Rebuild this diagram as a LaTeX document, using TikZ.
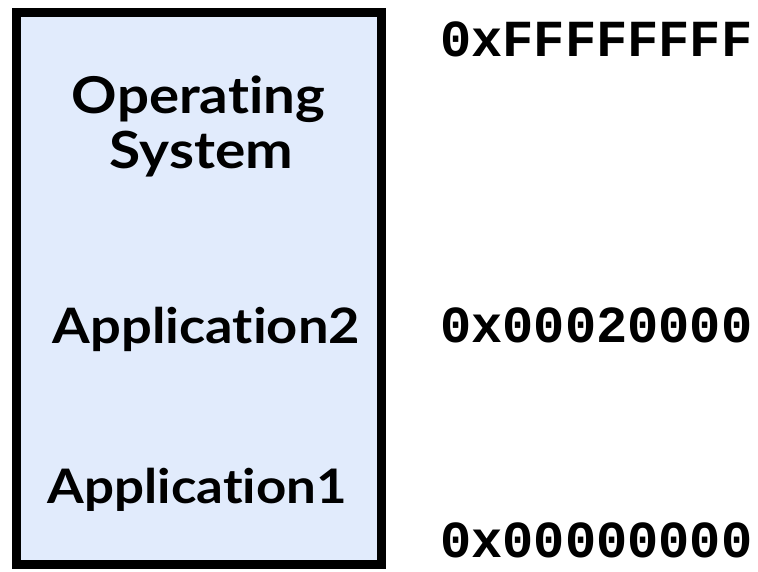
\documentclass[tikz,border=0pt]{standalone}
\usepackage{fontspec}
\newfontfamily\labelfont{Lato}[BoldFont={Lato Bold}, Ligatures={NoCommon}]
\newfontfamily\addrfont{Liberation Mono}
\definecolor{memfill}{HTML}{E1EBFC}
\tikzset{
  memlabel/.style={anchor=base, inner sep=0pt, font=\labelfont\bfseries},
  addr/.style={anchor=base west, inner sep=0pt, font=\addrfont\bfseries\fontsize{52}{60}\selectfont}
}
\begin{document}
\begin{tikzpicture}[x=1pt,y=-1pt]
\useasboundingbox (0,0) rectangle (758,571);
\draw[line width=9pt, fill=memfill] (16.5,12.5) rectangle (381.5,564.5);
\node[memlabel] (os1) at (198.5,113) {\scalebox{1}[0.9]{\resizebox{253pt}{!}{Operating}}};
\node[memlabel] (os2) at (201.5,168) {\scalebox{1}[0.9]{\resizebox{183pt}{!}{System}}};
\node[memlabel] (app2) at (206.5,343) {\scalebox{1}[0.9]{\resizebox{307pt}{!}{Application2}}};
\node[memlabel] (app1) at (197.5,503) {\scalebox{1}[0.9]{\resizebox{299pt}{!}{Application1}}};
\node[addr] (a3) at (440,56) {0xFFFFFFFF};
\node[addr] (a2) at (440,342) {0x00020000};
\node[addr] (a1) at (440,557) {0x00000000};
\end{tikzpicture}
\end{document}
